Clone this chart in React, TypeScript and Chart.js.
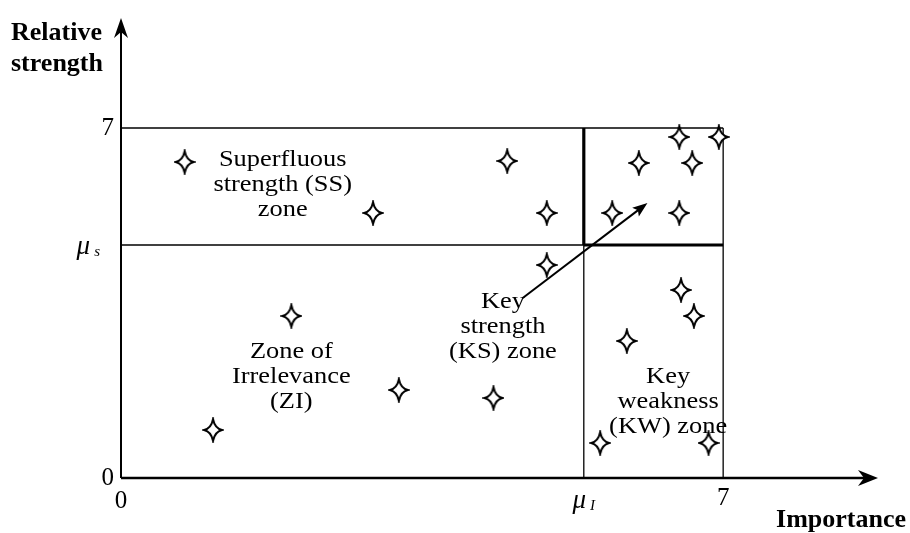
import React, { useEffect, useRef } from "react";
import { Chart, registerables } from "chart.js";

Chart.register(...registerables);

// ---- data ----
const importance = [0.74, 4.49, 2.93, 4.95, 4.95, 1.98, 3.23, 4.33, 1.07, 6.49, 6.95, 6.02, 6.64, 5.71, 6.49, 6.51, 6.66, 5.88, 5.57, 6.83];
const strength = [6.32, 6.34, 5.3, 5.3, 4.26, 3.24, 1.76, 1.6, 0.96, 6.82, 6.82, 6.3, 6.3, 5.3, 5.3, 3.76, 3.24, 2.74, 0.7, 0.7];
const muI = 5.38;
const muS = 4.66;
const scaleMax = 7;
const xAxisMax = 8.8;
const yAxisMax = 9.2;
const xTickValues = [0, muI, 7];
const xTickLabels = ["0", "μ|I", "7"];
const yTickValues = [0, muS, 7];
const yTickLabels = ["0", "μ|s", "7"];
const zoneLabels = [
  { lines: ["Superfluous", "strength (SS)", "zone"], x: 1.88, y: 5.86 },
  { lines: ["Zone of", "Irrelevance", "(ZI)"], x: 1.98, y: 2.02 },
  { lines: ["Key", "strength", "(KS) zone"], x: 4.44, y: 3.02 },
  { lines: ["Key", "weakness", "(KW) zone"], x: 6.36, y: 1.52 },
];
const ksArrowFrom = { x: 4.67, y: 3.6 };
const ksArrowTo = { x: 6.12, y: 5.5 };

function makeStar(): HTMLCanvasElement {
  const c = document.createElement("canvas");
  c.width = 22;
  c.height = 26;
  const g = c.getContext("2d")!;
  const cx = 11, cy = 13, rx = 9, ry = 11, k = 1.7;
  g.beginPath();
  g.moveTo(cx, cy - ry);
  g.quadraticCurveTo(cx + k, cy - k, cx + rx, cy);
  g.quadraticCurveTo(cx + k, cy + k, cx, cy + ry);
  g.quadraticCurveTo(cx - k, cy + k, cx - rx, cy);
  g.quadraticCurveTo(cx - k, cy - k, cx, cy - ry);
  g.closePath();
  g.fillStyle = "#fff";
  g.fill();
  g.lineWidth = 1.9;
  g.strokeStyle = "#000";
  g.lineJoin = "miter";
  g.stroke();
  return c;
}

function seg(x1: number, y1: number, x2: number, y2: number, w: number) {
  return {
    type: "scatter" as const,
    data: [{ x: x1, y: y1 }, { x: x2, y: y2 }],
    showLine: true,
    borderColor: "#000",
    borderWidth: w,
    pointRadius: 0,
    order: 2,
  };
}

function arrowHead(ctx: CanvasRenderingContext2D, x: number, y: number, ang: number, len: number, half: number, notch: number) {
  ctx.save();
  ctx.translate(x, y);
  ctx.rotate(ang);
  ctx.beginPath();
  ctx.moveTo(0, 0);
  ctx.lineTo(-len, -half);
  ctx.lineTo(-len + notch, 0);
  ctx.lineTo(-len, half);
  ctx.closePath();
  ctx.fillStyle = "#000";
  ctx.fill();
  ctx.restore();
}

function drawMathLabel(ctx: CanvasRenderingContext2D, spec: string, x: number, y: number, align: "center" | "right") {
  const [main, sub] = spec.split("|");
  if (sub === undefined) {
    ctx.font = "25px 'Liberation Serif'";
    ctx.textAlign = align;
    ctx.textBaseline = "middle";
    ctx.fillText(main, x, y);
    return;
  }
  ctx.font = "italic 27px 'Liberation Serif'";
  const w1 = ctx.measureText(main).width;
  ctx.font = "italic 15px 'Liberation Serif'";
  const w2 = ctx.measureText(sub).width + 4;
  const total = w1 + w2;
  const left = align === "center" ? x - total / 2 : x - total;
  ctx.textAlign = "left";
  ctx.textBaseline = "middle";
  ctx.font = "italic 27px 'Liberation Serif'";
  ctx.fillText(main, left, y);
  ctx.font = "italic 15px 'Liberation Serif'";
  ctx.fillText(sub, left + w1 + 4, y + 5);
}

const overlay = {
  id: "overlay",
  afterDraw(chart: any) {
    const ctx: CanvasRenderingContext2D = chart.ctx;
    const xs = chart.scales.x;
    const ys = chart.scales.y;
    const px = (v: number) => xs.getPixelForValue(v);
    const py = (v: number) => ys.getPixelForValue(v);
    const x0 = px(0), y0 = py(0);
    ctx.save();
    ctx.strokeStyle = "#000";
    ctx.fillStyle = "#000";
    // axes
    ctx.lineWidth = 2;
    ctx.beginPath();
    ctx.moveTo(x0, y0);
    ctx.lineTo(x0, py(yAxisMax) + 8);
    ctx.stroke();
    arrowHead(ctx, x0, py(yAxisMax), -Math.PI / 2, 20, 7, 6);
    ctx.lineWidth = 2.5;
    ctx.beginPath();
    ctx.moveTo(x0, y0);
    ctx.lineTo(px(xAxisMax) - 8, y0);
    ctx.stroke();
    arrowHead(ctx, px(xAxisMax), y0, 0, 20, 8, 6);

    // KS arrow
    const ax1 = px(ksArrowFrom.x), ay1 = py(ksArrowFrom.y);
    const ax2 = px(ksArrowTo.x), ay2 = py(ksArrowTo.y);
    const ang = Math.atan2(ay2 - ay1, ax2 - ax1);
    ctx.lineWidth = 2;
    ctx.beginPath();
    ctx.moveTo(ax1, ay1);
    ctx.lineTo(ax2 - 8 * Math.cos(ang), ay2 - 8 * Math.sin(ang));
    ctx.stroke();
    arrowHead(ctx, ax2, ay2, ang, 15, 5.5, 3);

    // zone labels (slightly wide serif, as in the reference)
    ctx.font = "24px 'Liberation Serif'";
    ctx.textAlign = "center";
    ctx.textBaseline = "middle";
    for (const z of zoneLabels) {
      const cx = px(z.x), cy = py(z.y);
      z.lines.forEach((t, i) => {
        ctx.save();
        ctx.translate(cx, cy + (i - 1) * 25);
        ctx.scale(1.1, 1);
        ctx.fillText(t, 0, 0);
        ctx.restore();
      });
    }

    // ticks
    xTickLabels.forEach((t, i) => {
      const v = xTickValues[i];
      const yy = i === 2 ? y0 + 20 : y0 + 23;
      drawMathLabel(ctx, t, px(v), yy, "center");
    });
    yTickLabels.forEach((t, i) => {
      const v = yTickValues[i];
      drawMathLabel(ctx, t, i === 1 ? x0 - 21 : x0 - 7, py(v) + (i === 1 ? 2 : 0), "right");
    });

    // axis titles
    ctx.font = "bold 26px 'Liberation Serif'";
    ctx.textAlign = "left";
    ctx.textBaseline = "middle";
    ctx.fillText("Relative", 11, 33);
    ctx.fillText("strength", 11, 64);
    ctx.textAlign = "right";
    ctx.fillText("Importance", 906, 520);
    ctx.restore();
  },
};

export default function App() {
  const ref = useRef<HTMLCanvasElement>(null);
  useEffect(() => {
    if (!ref.current) return;
    const star = makeStar();
    const points = importance.map((x, i) => ({ x, y: strength[i] }));
    const chart = new Chart(ref.current, {
      type: "scatter",
      data: {
        datasets: [
          {
            data: points,
            pointStyle: star as any,
            pointRadius: 10,
            order: 0,
          } as any,
          seg(0, scaleMax, scaleMax, scaleMax, 1.3),
          seg(0, muS, muI, muS, 1.3),
          seg(muI, muS, scaleMax, muS, 3.2),
          seg(muI, 0, muI, muS, 1.3),
          seg(muI, muS, muI, scaleMax, 3.2),
          seg(scaleMax, 0, scaleMax, scaleMax, 1.3),
        ],
      },
      options: {
        animation: false,
        responsive: false,
        maintainAspectRatio: false,
        layout: { padding: { left: 121, right: 32, top: 18, bottom: 55 } },
        plugins: { legend: { display: false }, tooltip: { enabled: false } },
        scales: {
          x: { type: "linear", min: 0, max: xAxisMax, display: false },
          y: { type: "linear", min: 0, max: yAxisMax, display: false },
        },
      },
      plugins: [overlay],
    });
    return () => chart.destroy();
  }, []);
  return (
    <div style={{ position: "fixed", left: 0, top: 0, width: 910, height: 533, background: "#fff" }}>
      <canvas ref={ref} width={910} height={533} />
    </div>
  );
}
